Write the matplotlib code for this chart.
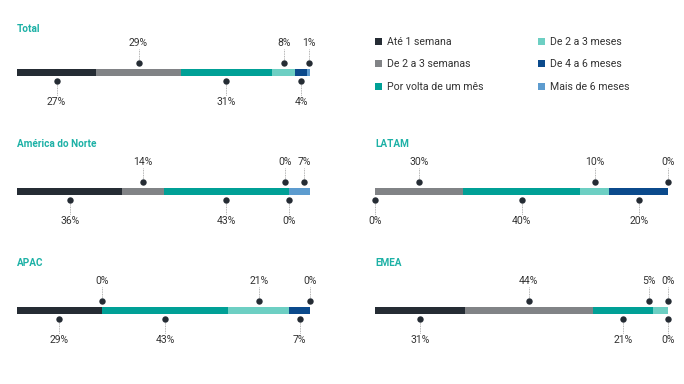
import matplotlib
matplotlib.use("Agg")
import matplotlib.pyplot as plt
from matplotlib.patches import Patch

plt.rcParams['font.family'] = ['Roboto', 'DejaVu Sans']

categories = ["Até 1 semana", "De 2 a 3 semanas", "Por volta de um mês",
              "De 2 a 3 meses", "De 4 a 6 meses", "Mais de 6 meses"]
colors = ["#252C34", "#818386", "#00A096", "#6DCFC3", "#0B4A8C", "#5D9CCF"]

regions = ["Total", "América do Norte", "LATAM", "APAC", "EMEA"]
total = [27, 29, 31, 8, 4, 1]
america_norte = [36, 14, 43, 0, 0, 7]
latam = [0, 30, 40, 10, 20, 0]
apac = [29, 0, 43, 21, 7, 0]
emea = [31, 44, 21, 5, 0, 0]
values = [total, america_norte, latam, apac, emea]

W, H = 684, 384
fig = plt.figure(figsize=(W / 100, H / 100), dpi=100)

# panel layout in pixels: (x0, x1, bar center y, title offset)
layout = [(17, 310, 72, -43), (17, 310, 191, -47), (375, 668, 191, -47),
          (17, 310, 310, -47), (375, 668, 310, -47)]

txt_color = "#333333"
title_color = "#1DB1A6"


def spread(pos, gap, lo, hi):
    """Push label positions apart so that neighbours are at least `gap` apart."""
    pos = list(pos)
    for _ in range(50):
        moved = False
        for k in range(len(pos) - 1):
            d = pos[k + 1] - pos[k]
            if d < gap:
                shift = (gap - d) / 2
                pos[k] -= shift
                pos[k + 1] += shift
                moved = True
        pos = [min(max(p, lo), hi) for p in pos]
        if not moved:
            break
    return pos


handles = [Patch(facecolor=c, label=l, linewidth=0) for c, l in zip(colors, categories)]

for i, (name, vals) in enumerate(zip(regions, values)):
    x0, x1, yc, toff = layout[i]
    tot = sum(vals)
    ax = fig.add_axes([x0 / W, 0, (x1 - x0) / W, 1])
    ax.set_xlim(0, tot)
    ax.set_ylim(H, 0)
    ax.axis("off")
    centers = []
    left = 0
    for j, v in enumerate(vals):
        ax.barh(yc, v, left=left, height=7, color=colors[j], linewidth=0)
        centers.append(left + v / 2)
        left += v
    gap = 19 / (x1 - x0) * tot
    pos = list(centers)
    for side in (0, 1):
        idx = [j for j in range(len(vals)) if j % 2 == side]
        new = spread([centers[j] for j in idx], gap, 0, tot)
        for j, p in zip(idx, new):
            pos[j] = p
    for j, v in enumerate(vals):
        cx = pos[j]
        if j % 2 == 0:
            dy, ly, le = yc + 9, yc + 30, yc + 24
        else:
            dy, ly, le = yc - 9, yc - 29, yc - 23
        ax.plot([cx, cx], [dy, le], ls=(0, (1, 1)), color="#9a9a9a", lw=0.6,
                clip_on=False)
        ax.plot(cx, dy, "o", color="#252C34", ms=4.6, mew=0, clip_on=False, zorder=5)
        ax.text(cx, ly, f"{v}%", ha="center", va="center", fontsize=7.5,
                color=txt_color, clip_on=False)
    ax.text(0, yc + toff, name, ha="left", va="center", fontsize=7.2,
            fontweight="bold", color=title_color, clip_on=False)

fig.legend(handles=handles, ncol=2, loc="upper left",
           bbox_to_anchor=(375 / W, 1 - 37 / H), frameon=False,
           fontsize=7.6, handlelength=0.7, handleheight=0.7,
           handletextpad=0.4, labelspacing=1.18, columnspacing=5.2,
           borderaxespad=0, borderpad=0, labelcolor=txt_color)

fig.savefig("out.png", dpi=100)
